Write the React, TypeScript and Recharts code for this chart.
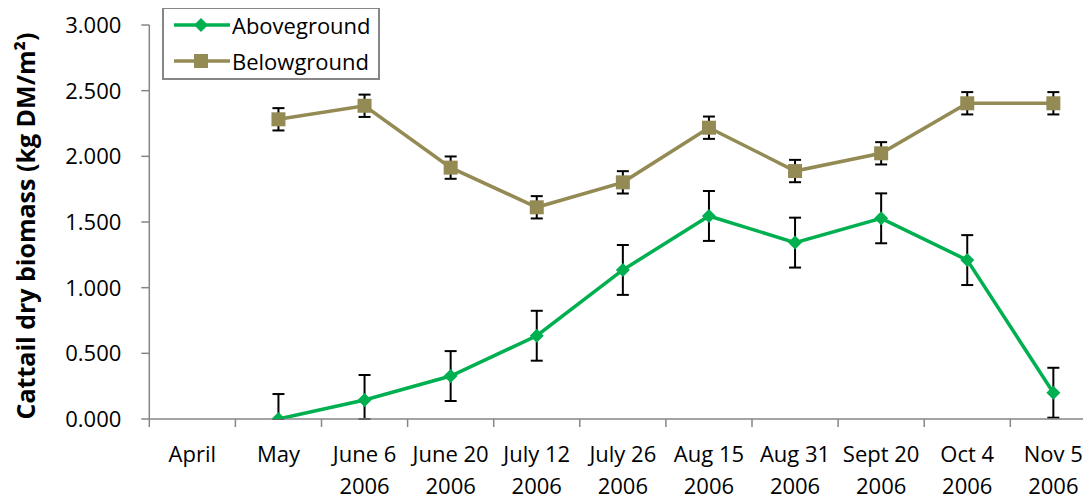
import React from 'react';
import { LineChart, Line, XAxis, YAxis, ErrorBar } from 'recharts';

const categories = [
  'April', 'May', 'June 6\n2006', 'June 20\n2006', 'July 12\n2006', 'July 26\n2006',
  'Aug 15\n2006', 'Aug 31\n2006', 'Sept 20\n2006', 'Oct 4\n2006', 'Nov 5\n2006',
];
const aboveground = [null, 0.0, 0.145, 0.327, 0.634, 1.135, 1.546, 1.343, 1.528, 1.21, 0.2];
// [minus, plus]; bars that would cross zero are cut at the axis like in the original
const aboveErr = [null, [0, 0.19], [0.145, 0.19], 0.19, 0.19, 0.19, 0.19, 0.19, 0.19, 0.19, 0.19];
const belowground = [null, 2.282, 2.385, 1.914, 1.612, 1.802, 2.218, 1.888, 2.023, 2.404, 2.404];
const belowErr = [null, 0.085, 0.085, 0.085, 0.085, 0.085, 0.085, 0.085, 0.085, 0.085, 0.085];
const yTicks = [0, 0.5, 1, 1.5, 2, 2.5, 3];

const data = categories.map((c, i) => ({
  name: c,
  above: aboveground[i],
  aboveErr: aboveErr[i],
  below: belowground[i],
  belowErr: belowErr[i],
}));

const GREEN = '#00B050';
const OLIVE = '#948A54';
const AXIS = '#868686';
const FONT = '"Open Sans", sans-serif';
const BAND = 947 / 11;

const Diamond = (props: any) => {
  const { cx, cy } = props;
  if (cx == null || cy == null || props.value == null) return null;
  const r = 7;
  return <path d={`M${cx},${cy - r}L${cx + r},${cy}L${cx},${cy + r}L${cx - r},${cy}Z`} fill={GREEN} />;
};

const Square = (props: any) => {
  const { cx, cy } = props;
  if (cx == null || cy == null || props.value == null) return null;
  const s = 7;
  return <rect x={cx - s} y={cy - s} width={s * 2} height={s * 2} fill={OLIVE} />;
};

// category labels sit in the band, tick marks on the band edges (Excel style)
const XTick = (props: any) => {
  const { x, y, payload } = props;
  const lines = String(payload.value).split('\n');
  return (
    <g>
      <line x1={x - BAND / 2} y1={y} x2={x - BAND / 2} y2={y + 8} stroke={AXIS} strokeWidth={1.5} />
      {lines.map((l, i) => (
        <text key={i} x={x} y={y + 43 + i * 32} textAnchor="middle" fontSize={22} fontFamily={FONT} fill="#000">
          {l}
        </text>
      ))}
    </g>
  );
};

const YTick = (props: any) => {
  const { x, y, payload } = props;
  return (
    <text x={x} y={y + 8} textAnchor="end" fontSize={22} fontFamily={FONT} fill="#000">
      {payload.value.toFixed(3)}
    </text>
  );
};

const YLabel = () => (
  <text
    x={17}
    y={218}
    transform="rotate(-90 17 218)"
    textAnchor="middle"
    dominantBaseline="central"
    fontSize={25}
    fontWeight="bold"
    fontFamily={FONT}
    fill="#000"
  >
    Cattail dry biomass (kg DM/m²)
  </text>
);

const legendItems = [
  { label: 'Aboveground', color: GREEN, shape: 'diamond' },
  { label: 'Belowground', color: OLIVE, shape: 'square' },
];

const LegendBox = () => (
  <div
    style={{
      position: 'absolute',
      left: 154,
      top: -1,
      border: `2px solid ${AXIS}`,
      background: '#fff',
      width: 214,
      height: 69,
      overflow: 'hidden',
      fontFamily: FONT,
      fontSize: 22,
    }}
  >
    {legendItems.map((it, i) => (
      <div
        key={it.label}
        style={{ display: 'flex', alignItems: 'center', height: 36, marginTop: i === 0 ? -2 : 0 }}
      >
        <svg width={68} height={20}>
          <line x1={10} y1={10} x2={66} y2={10} stroke={it.color} strokeWidth={3.5} />
          {it.shape === 'diamond' ? (
            <path d="M37,3L44,10L37,17L30,10Z" fill={it.color} />
          ) : (
            <rect x={30} y={3} width={14} height={14} fill={it.color} />
          )}
        </svg>
        <span>{it.label}</span>
      </div>
    ))}
  </div>
);

export default function App() {
  return (
    <div style={{ width: 1083, height: 491, overflow: 'hidden', position: 'relative', background: '#fff' }}>
      <LineChart
        width={1100}
        height={491}
        data={data}
        margin={{ top: 17, right: 11.6, bottom: 0, left: 11.3 }}
      >
        <XAxis
          dataKey="name"
          scale="band"
          interval={0}
          height={80}
          stroke={AXIS}
          strokeWidth={1.5}
          tickLine={false}
          tickSize={0}
          tickMargin={0}
          tick={<XTick />}
        />
        <YAxis
          domain={[0, 3]}
          allowDataOverflow
          ticks={yTicks}
          width={130}
          stroke={AXIS}
          strokeWidth={1.5}
          tickSize={8}
          tickMargin={20}
          tick={<YTick />}
          label={<YLabel />}
        />
        <Line
          dataKey="above"
          name="Aboveground"
          stroke={GREEN}
          strokeWidth={3.5}
          dot={<Diamond />}
          activeDot={false}
          isAnimationActive={false}
        >
          <ErrorBar dataKey="aboveErr" width={6} stroke="#000" strokeWidth={2} direction="y" />
        </Line>
        <Line
          dataKey="below"
          name="Belowground"
          stroke={OLIVE}
          strokeWidth={3.5}
          dot={<Square />}
          activeDot={false}
          isAnimationActive={false}
        >
          <ErrorBar dataKey="belowErr" width={6} stroke="#000" strokeWidth={2} direction="y" />
        </Line>
      </LineChart>
      <LegendBox />
    </div>
  );
}
